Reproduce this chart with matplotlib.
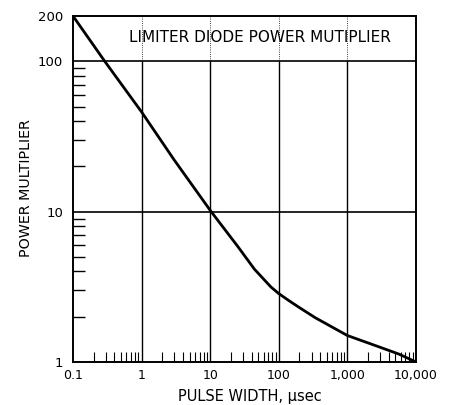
import matplotlib
matplotlib.use('Agg')
import matplotlib.pyplot as plt
from matplotlib.ticker import FixedLocator, NullFormatter

plt.rcParams['font.family'] = ['DejaVu Sans']

# Curve (pulse width in usec, power multiplier)
pulse_width = [0.1, 0.29, 1, 3, 10, 16, 25, 44, 77, 100, 142, 200, 340,
               1000, 2900, 5600, 10000]
multiplier = [200, 100, 46, 22, 10.2, 7.7, 5.9, 4.15, 3.15, 2.85, 2.55, 2.3, 1.97,
              1.5, 1.26, 1.13, 1.0]

x_ticks = [0.1, 1, 10, 100, 1000, 10000]
x_labels = ["0.1", "1", "10", "100", "1,000", "10,000"]
y_ticks = [1, 10, 100, 200]
y_labels = ["1", "10", "100", "200"]
title = "LIMITER DIODE POWER MUTIPLIER"

fig = plt.figure(figsize=(4.51, 4.05), dpi=100)
ax = fig.add_axes([73 / 451, 1 - 362 / 405, (416 - 73) / 451, (362 - 16) / 405])

ax.plot(pulse_width, multiplier, color='black', lw=2.0,
        solid_capstyle='round', solid_joinstyle='round')
ax.set_xscale('log')
ax.set_yscale('log')
ax.set_xlim(0.1, 10000)
ax.set_ylim(1, 200)

# decade grid: solid below 100, faint dotted in the title band
ax.vlines(x_ticks[1:-1], 1, 100, color='black', lw=1.0)
ax.vlines(x_ticks[1:-1], 100, 200, color='black', lw=0.6, linestyles=':')
ax.hlines([10, 100], 0.1, 10000, color='black', lw=1.2)

ax.xaxis.set_major_locator(FixedLocator(x_ticks))
ax.set_xticklabels(x_labels)
ax.yaxis.set_major_locator(FixedLocator(y_ticks))
ax.set_yticklabels(y_labels)
ax.tick_params(axis='x', which='major', length=0, labelsize=9, pad=5)
ax.tick_params(axis='y', which='major', length=0, labelsize=9.5, pad=7)

xminor = [d * m for d in [0.1, 1, 10, 100, 1000] for m in range(2, 10)]
yminor = [d * m for d in [1, 10] for m in range(2, 10)]
ax.xaxis.set_minor_locator(FixedLocator(xminor))
ax.yaxis.set_minor_locator(FixedLocator(yminor))
ax.xaxis.set_minor_formatter(NullFormatter())
ax.yaxis.set_minor_formatter(NullFormatter())
ax.tick_params(axis='x', which='minor', direction='in', length=7, width=0.8)
ax.tick_params(axis='y', which='minor', direction='in', length=8.5, width=1.0)

for s in ax.spines.values():
    s.set_linewidth(1.4)

ax.text(0.545, 0.939, title, transform=ax.transAxes, ha='center', va='center', fontsize=11)
fig.text(250 / 451, 1 - 396 / 405, "PULSE WIDTH, \u03bcsec", ha='center', va='center', fontsize=10.5)
fig.text(26 / 451, 1 - 188 / 405, "POWER MULTIPLIER", ha='center', va='center',
         rotation=90, fontsize=10.3)

fig.savefig("out.png", dpi=100)
